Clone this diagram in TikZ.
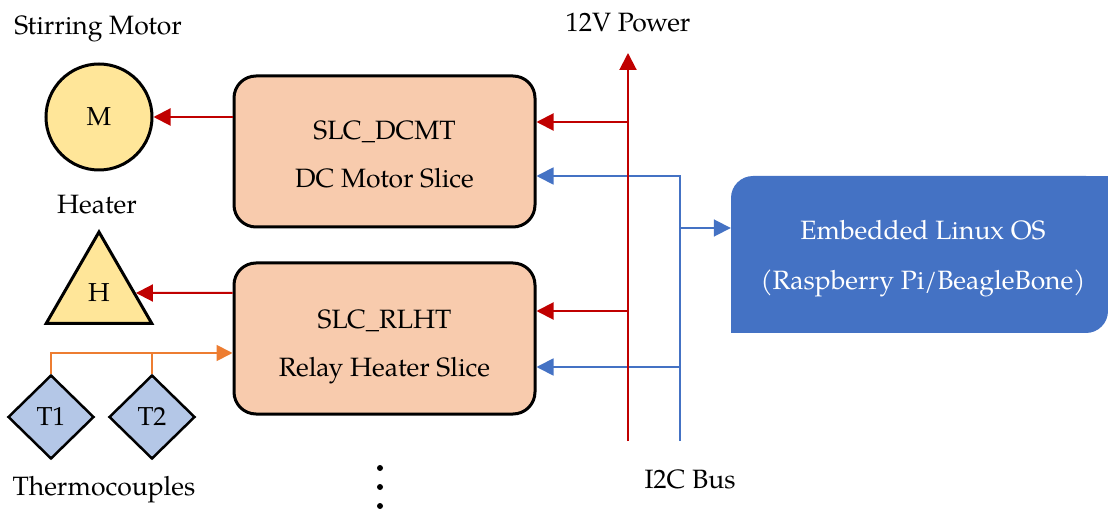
\documentclass[tikz,border=0pt]{standalone}
\usepackage{fontspec}
\setmainfont{TeX Gyre Pagella}
\usetikzlibrary{arrows.meta,shapes.geometric,calc}
\definecolor{peach}{HTML}{F8CBAD}
\definecolor{myyellow}{HTML}{FFE699}
\definecolor{tcblue}{HTML}{B4C7E7}
\definecolor{pwrred}{HTML}{C00000}
\definecolor{busblue}{HTML}{4472C4}
\definecolor{tcorange}{HTML}{ED7D31}
\begin{document}
\begin{tikzpicture}[x=1pt,y=-1pt,
  lbl/.style={font=\fontsize{26.5}{30}\selectfont, inner sep=0pt, text height=18pt, text depth=5pt},
  slice/.style={draw=black, line width=3pt, fill=peach, rounded corners=22pt,
    minimum width=301pt, minimum height=151pt, inner sep=0pt},
  slicetext/.style={align=center, inner sep=0pt, font=\fontsize{26.5}{48}\selectfont},
  embbox/.style={fill=busblue, rounded corners=22pt, minimum width=377pt, minimum height=157pt, inner sep=0pt},
  embtext/.style={align=center, text=white, inner sep=0pt, font=\fontsize{26.5}{50}\selectfont},
  part/.style={draw=black, line width=3pt, fill=myyellow, inner sep=0pt, font=\fontsize{26}{30}\selectfont},
  tc/.style={diamond, draw=black, line width=2.5pt, fill=tcblue, inner sep=0pt,
    minimum width=86pt, minimum height=84pt, font=\fontsize{26}{30}\selectfont},
  pwr/.style={draw=pwrred, line width=2pt, -{Triangle[length=17pt,width=17pt]}},
  bus/.style={draw=busblue, line width=1.8pt, -{Triangle[length=17pt,width=17pt]}},
  sens/.style={draw=tcorange, line width=1.8pt, -{Triangle[length=16pt,width=16pt]}},
  sensline/.style={draw=tcorange, line width=1.8pt},
  dotn/.style={circle, fill=black, inner sep=0pt, minimum size=6pt}
]
\useasboundingbox (0,0) rectangle (1108,510);

% slices
\node[slice] (dcmt) at (384.5,151.5) {};
\node[slicetext] (dcmttxt) at (384.5,154) {SLC\_DCMT\\DC Motor Slice};
\node[slice] (rlht) at (384.5,338.5) {};
\node[slicetext] (rlhttxt) at (384.5,347) {SLC\_RLHT\\Relay Heater Slice};

% embedded box
\node[embbox] (emb) at (919.5,254.5) {};
\fill[busblue] (emb.north east) rectangle ++(-24,24);
\fill[busblue] (emb.south west) rectangle ++(24,-24);
\node[embtext] (embtxt) at (923,259) {Embedded Linux OS\\(Raspberry Pi/BeagleBone)};

% actuators
\node[part, circle, minimum size=106pt] (mot) at (99,117) {M};
\node[part, regular polygon, regular polygon sides=3, minimum size=122pt] (heat) at (99,293) {H};
\node[tc] (t1) at (51,417) {T1};
\node[tc] (t2) at (152,417) {T2};

% labels
\node[lbl] (lmot) at (98,28) {Stirring Motor};
\node[lbl] (lheat) at (97,207) {Heater};
\node[lbl] (ltc) at (104,489) {Thermocouples};
\node[lbl] (lpwr) at (628,25) {12V Power};
\node[lbl] (lbus) at (690,482) {I2C Bus};

% dots
\node[dotn] (d1) at (380,468) {};
\node[dotn] (d2) at (380,487) {};
\node[dotn] (d3) at (380,506) {};

% outputs to actuators
\draw[pwr] (dcmt.west |- mot) -- (mot);
\draw[pwr] (rlht.west |- heat) -- (heat);

% thermocouples
\coordinate (oin) at (rlht.west |- 0,353);
\draw[sens] (t1.north) |- (oin);
\draw[sensline] (t2.north) -- (t2.north |- oin);

% I2C bus
\coordinate (bb) at (680,441);
\coordinate (bt) at (680,176);
\coordinate (b2) at (680,367);
\coordinate (b3) at (680,228);
\draw[bus] (bb) -- (bt) -- (dcmt.east |- bt);
\draw[bus] (b2) -- (rlht.east |- b2);
\draw[bus] (b3) -- (emb.west |- b3);

% power bus
\coordinate (pb) at (628,441);
\coordinate (ptop) at (628,53);
\coordinate (p1) at (628,122);
\coordinate (p2) at (628,311);
\draw[pwr] (pb) -- (ptop);
\draw[pwr] (p1) -- (dcmt.east |- p1);
\draw[pwr] (p2) -- (rlht.east |- p2);
\end{tikzpicture}
\end{document}
